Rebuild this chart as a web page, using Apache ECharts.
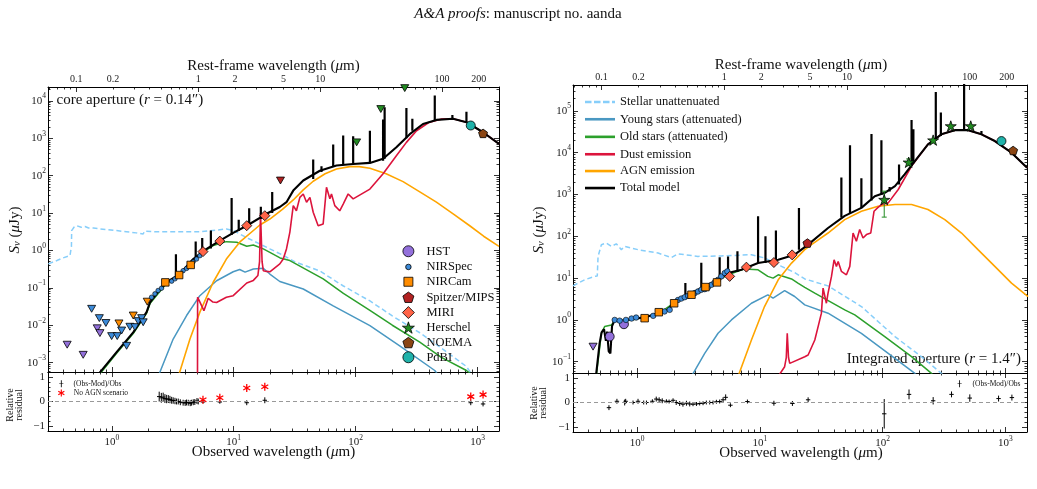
<!DOCTYPE html>
<html><head><meta charset="utf-8">
<script src="https://cdn.jsdelivr.net/npm/echarts@6/dist/echarts.min.js"></script>
<style>html,body{margin:0;padding:0;background:#fff}#c{width:1037px;height:489px}</style>
</head><body><div id="c"></div>
<script>
// ================= DATA (wavelength in micron, flux density in microJy) =================
const onePlusZ = 5.12;
// ---- tick labels ----
const obsTickLabels = [1, 10, 100, 1000];
const restTickLabels = [0.1, 0.2, 1, 2, 5, 10, 100, 200];
const leftYTickLabels = [1e-3, 1e-2, 1e-1, 1, 10, 100, 1e3, 1e4];
const rightYTickLabels = [1e-1, 1, 10, 100, 1e3, 1e4, 1e5];
const resTickLabels = [-1, 0, 1];

// ---- LEFT panel: core aperture ----
const leftStellar = [[0.302,0.437],[0.355,0.537],[0.398,0.631],[0.454,0.726],[0.467,1.26],[0.469,3.39],[0.490,4.17],[0.515,4.60],[0.562,4.17],[0.603,4.37],[0.646,3.98],[0.708,3.98],[0.80,3.76],[0.891,3.63],[1.096,3.39],[1.318,3.16],[1.585,2.95],[1.81,2.75],[1.86,3.31],[1.93,3.39],[2.24,3.16],[2.82,3.16],[3.98,3.16],[5.28,3.16],[7.08,3.47],[8.71,3.76],[10.0,3.39],[11.2,2.75],[13.2,2.09],[16.4,1.49],[19.8,1.10],[25.1,0.759],[31.6,0.50],[50.9,0.282],[79.4,0.112],[131,0.0447],[200,0.0178],[336,0.0063],[501,0.00251],[811,7.9e-4],[891,5.0e-4]];
const leftYoung = [[2.45,5.0e-4],[3.19,4.27e-3],[4.11,0.0182],[5.28,0.0617],[7.24,0.155],[9.91,0.269],[11.2,0.309],[12.4,0.263],[14.5,0.32],[17.5,0.334],[19.8,0.234],[23.9,0.148],[37.2,0.0933],[65.5,0.0331],[131,9.77e-3],[230,2.82e-3],[446,6.17e-4],[468,5.0e-4]];
const leftOld = [[0.76,3.5e-4],[0.80,5.0e-4],[1.096,1.78e-3],[1.50,6.03e-3],[1.93,0.0209],[2.06,0.038],[2.82,0.132],[3.62,0.219],[4.66,0.55],[5.28,0.80],[6.79,1.35],[8.71,1.72],[10.6,1.66],[12.8,1.29],[14.5,1.40],[17.5,1.10],[19.8,0.891],[24.0,0.631],[28.9,0.537],[54.2,0.174],[79.4,0.0708],[131,0.0251],[200,0.01],[336,3.55e-3],[501,1.41e-3],[811,6.17e-4],[891,4.8e-4]];
const leftDust = [[5.05,5e-4],[5.06,0.0562],[5.70,0.0245],[6.18,0.0525],[6.76,0.0417],[7.24,0.0407],[8.71,0.0562],[9.91,0.0617],[12.8,0.135],[14.5,0.158],[15.8,0.214],[16.3,0.501],[16.6,10.0],[17.1,0.501],[17.5,0.288],[18.6,0.275],[19.8,0.269],[23.9,0.437],[25.5,0.589],[27.1,1.10],[28.9,3.09],[30.8,15.8],[32.7,11.5],[34.9,26.3],[37.2,32.4],[39.6,19.5],[42.2,26.3],[44.9,10.5],[49.3,4.57],[54.2,5.13],[57.7,49.0],[61.5,24.0],[63.4,32.4],[67.5,15.8],[74.1,11.5],[79.1,17.4],[86.9,32.4],[95.5,24.0],[131,43.7],[168,112],[216,339],[261,776],[316,1585],[398,2630],[501,3236],[631,3311],[811,2692],[1109,1445],[1500,708]];
const leftAGN = [[3.57,5e-4],[4.38,4.27e-3],[5.28,0.0224],[6.79,0.141],[8.71,0.589],[11.2,1.66],[16.4,4.79],[19.8,6.92],[25.1,12.6],[30.8,22.4],[37.2,41.7],[44.9,70.8],[56.2,112],[69.7,151],[89.5,174],[107,174],[131,158],[178,112],[245,69.2],[331,38],[460,19.5],[631,9.55],[863,4.57],[1122,2.40],[1500,1.29]];
const leftTotal = [[0.76,3.5e-4],[0.80,5.5e-4],[1.096,1.91e-3],[1.50,6.46e-3],[1.93,0.0224],[2.06,0.0407],[2.40,0.0794],[2.82,0.141],[3.62,0.234],[4.66,0.589],[6.0,1.10],[7.71,1.82],[9.91,2.95],[12.8,4.57],[18.6,9.55],[23.9,14.5],[27.1,19.5],[30.8,39.8],[37.2,74.1],[50.9,135],[69.7,186],[95.5,204],[131,219],[168,282],[216,575],[278,1288],[357,2399],[460,3090],[630,3311],[811,2692],[1109,1445],[1500,708]];
// emission lines: [wavelength, continuum, peak]
const leftLines = [[3.36,0.195,0.794],[4.88,0.589,1.74],[5.52,0.851,2.14],[6.50,1.12,3.39],[9.62,2.57,25.1],[11.0,3.31,6.61],[13.4,4.79,13.5],[16.7,6.92,14.8],[20.7,10.0,36.3],[44.9,81.3,269],[52.5,126,178],[65.5,170,676],[79.1,191,1175],[95.5,204,1122],[131,219,1585],[168,251,3162],[173,282,6761],[261,1000,6457],[292,1585,3311],[446,3020,13800],[622,3311,4169],[811,2692,5129]];
const leftNIRSpec = [[2.12,0.0562],[2.26,0.0692],[2.40,0.0851],[2.56,0.0977],[3.10,0.151],[3.30,0.174],[3.85,0.288],[4.11,0.331],[4.38,0.389],[4.66,0.501],[4.96,0.589],[5.28,0.724]];
const leftNIRCam = [[2.75,0.14],[3.57,0.22],[4.44,0.41]];
const leftMIRI = [[5.6,0.93],[7.7,1.78],[12.8,4.6],[18,8.5]];
const leftPdBI = [[880,2190]];
const leftNOEMA = [[1110,1350]];
const leftHSTLimits = [[0.431,3.02e-3],[0.583,1.62e-3],[0.760,8.3e-3],[0.80,6.17e-3]];
const leftNIRSpecLimits = [[0.684,0.0275],[0.791,0.0155],[0.895,0.0115],[0.998,5.13e-3],[1.109,5.13e-3],[1.205,7.24e-3],[1.324,2.82e-3],[1.409,9.12e-3],[1.549,8.91e-3],[1.648,0.0129],[1.758,0.0155],[1.811,0.0120]];
const leftNIRCamLimits = [[1.146,0.0112],[1.50,0.0182],[1.954,0.0427]];
const leftMIPSLimits = [[24.2,74]];
const leftHerschelLimits = [[102,776],[161,6030],[253,21900]];
// residuals: [wavelength, (Obs-Mod)/Obs, error]
const leftResidual = [[2.45,0.2,0.2],[2.55,0.15,0.2],[2.64,0.18,0.18],[2.73,0.12,0.18],[2.82,0.1,0.17],[2.91,0.1,0.16],[3.0,0.08,0.15],[3.1,0.05,0.14],[3.19,0.04,0.13],[3.3,0.02,0.13],[3.4,0.0,0.12],[3.51,0.0,0.12],[3.65,-0.03,0.12],[3.85,-0.05,0.12],[4.0,-0.06,0.12],[4.1,-0.04,0.12],[4.24,-0.05,0.12],[4.4,-0.07,0.12],[4.5,-0.05,0.12],[4.66,-0.03,0.12],[4.8,-0.02,0.12],[5.0,0.02,0.12],[5.12,0.0,0.12],[5.6,-0.02,0.06],[7.7,-0.02,0.07],[12.8,-0.05,0.1],[18,0.05,0.12],[880,-0.05,0.1],[1110,-0.1,0.1]];
const leftNoAGN = [[5.6,0.07],[7.7,0.15],[12.8,0.55],[18,0.6],[880,0.2],[1110,0.28]];

// ---- RIGHT panel: integrated aperture ----
const rightStellar = [[0.30,6.53],[0.373,9.12],[0.451,11.0],[0.473,11.2],[0.48,33.1],[0.511,63.1],[0.561,69.2],[0.617,57.5],[0.676,66.1],[0.743,47.9],[0.791,57.5],[1.016,47.9],[1.48,39.8],[1.90,30.9],[2.15,38.0],[3.13,33.1],[4.85,33.9],[8.53,36.3],[11.0,30.2],[15.0,19.1],[19.2,13.5],[23.2,9.55],[35.9,6.53],[67.1,2.09],[126,0.398],[207,0.132],[301,0.0525],[331,0.0398]];
const rightYoung = [[2.77,0.0447],[3.55,0.158],[4.56,0.479],[5.86,1.0],[8.53,2.51],[11.6,3.98],[12.8,3.31],[15.9,5.01],[19.2,3.63],[23.2,2.29],[35.9,1.45],[67.1,0.479],[111,0.158],[183,0.0525],[200,0.0398]];
const rightOld = [[0.464,0.0447],[0.511,0.479],[0.543,0.692],[0.617,0.759],[0.656,0.955],[0.897,1.0],[1.48,1.38],[2.02,2.63],[3.55,6.03],[5.50,12.0],[7.52,16.6],[9.66,15.8],[11.6,11.0],[12.8,10.0],[14.1,12.0],[18.1,9.55],[20.4,7.59],[23.2,6.03],[28.0,4.37],[49.1,1.74],[59.3,1.32],[104,0.398],[172,0.132],[250,0.0525],[275,0.0398]];
const rightDust = [[14.1,0.0447],[15.9,0.0759],[16.4,0.126],[16.7,0.479],[17.1,0.126],[17.5,0.0912],[23.2,0.132],[24.7,0.145],[28.0,0.331],[29.8,0.692],[31.7,1.45],[32.7,5.75],[34.8,2.51],[35.9,4.37],[38.3,11.0],[40.2,27.5],[42.0,19.1],[43.4,25.1],[46.1,14.5],[50.7,12.0],[54.0,19.1],[57.4,120],[61.1,75.9],[65.0,145],[69.2,91.2],[73.8,110],[80.0,120],[85.1,398],[90.8,479],[97.7,575],[111,631],[134,1318],[172,4786],[234,15850],[301,27540],[387,34670],[497,34670],[638,27540],[820,19050],[1122,10000],[1503,4365]];
const rightAGN = [[6.64,0.0447],[8.53,0.331],[10.9,2.09],[14.1,9.12],[18.1,22.9],[23.2,47.9],[26.3,63.1],[35.9,120],[49.1,251],[67.1,398],[91.8,525],[126,575],[172,575],[234,437],[321,251],[439,120],[598,47.9],[820,19.1],[1122,7.59],[1531,3.63]];
const rightTotal = [[0.452,0.0398],[0.464,0.0525],[0.494,0.275],[0.513,0.501],[0.537,0.603],[0.556,0.316],[0.569,0.525],[0.586,0.178],[0.605,0.158],[0.624,0.708],[0.656,1.0],[0.72,0.912],[0.897,1.05],[1.15,1.15],[1.48,1.45],[1.78,1.74],[2.02,2.75],[2.77,4.37],[3.55,6.31],[4.56,9.12],[5.50,13.2],[7.06,15.8],[9.66,22.9],[14.1,27.5],[19.2,36.3],[24.7,63.1],[35.9,158],[49.1,309],[67.1,479],[86.3,912],[104,1096],[126,1585],[151,3020],[183,6310],[234,15850],[301,27540],[387,34670],[497,34670],[638,27540],[820,19050],[1122,10000],[1503,4365]];
const rightLines = [[2.47,4.0,7.6],[3.33,5.25,23.4],[4.70,8.71,31.6],[5.50,13.2,33.1],[6.56,14.1,43.7],[9.66,22.9,302],[11.1,22.9,100],[13.5,27.5,138],[20.8,47.9,479],[46.1,282,2570],[54.2,355,15140],[67.1,479,2455],[81.1,724,28180],[97.7,977,19950],[114,1175,1514],[136,1738,5248],[172,4786,60260],[178,5623,36310],[271,19950,281800],[298,25120,91200],[461,34670,1e6],[638,27540,33110]];
const rightHST = [[0.597,0.40],[0.78,0.79]];
const rightHSTLimits = [[0.437,0.229]];
const rightNIRSpec = [[0.656,1.0],[0.72,0.96],[0.81,1.0],[0.90,1.08],[0.98,1.14],[1.35,1.25],[1.67,1.59],[1.84,1.74],[2.15,3.0],[2.29,3.25],[2.44,3.5],[2.6,3.77],[2.94,4.37],[3.13,4.79],[3.33,5.25],[3.55,5.45],[3.78,6.08],[4.03,6.92],[4.28,7.87],[4.56,9.12],[4.85,11.0],[5.17,13.2],[5.43,14.5]];
const rightNIRCam = [[1.15,1.1],[1.5,1.53],[2.0,2.5],[2.77,4.0],[3.6,6.1],[4.47,7.9]];
const rightMIRI = [[5.67,11],[7.76,18.3],[13.0,23.6],[18.3,36]];
const rightMIPS = [[24.4,69]];
const rightHerschel = [[103,755],[163,5900],[258,20000],[359,43500],[522,43500]];
const rightHerschelErr = [[103,288,1202],[163,4900,7100]];
const rightPdBI = [[929,19000]];
const rightNOEMA = [[1156,11300]];
const rightResidual = [[0.589,-0.21,0.1],[0.684,0.05,0.1],[0.791,0.0,0.12],[0.806,0.05,0.1],[0.925,0.0,0.08],[1.016,0.05,0.1],[1.13,0.0,0.08],[1.19,0.0,0.08],[1.33,0.05,0.08],[1.43,0.14,0.1],[1.51,0.11,0.1],[1.60,0.07,0.1],[1.73,0.05,0.08],[1.82,0.04,0.08],[1.96,0.09,0.08],[2.08,0.0,0.1],[2.22,-0.04,0.1],[2.36,-0.07,0.1],[2.52,-0.03,0.1],[2.68,-0.06,0.1],[2.85,-0.07,0.08],[3.04,-0.06,0.08],[3.23,-0.04,0.08],[3.44,-0.03,0.08],[3.66,0.0,0.08],[3.90,0.0,0.08],[4.15,0.0,0.08],[4.42,0.03,0.08],[4.70,0.04,0.08],[5.01,0.11,0.1],[5.26,0.21,0.12],[5.75,-0.11,0.08],[7.91,0.04,0.08],[13.0,-0.03,0.1],[18.4,-0.04,0.1],[24.7,0.11,0.1],[103,-0.46,0.6],[164,0.33,0.2],[258,0.07,0.15],[364,0.33,0.12],[513,0.18,0.15],[880,0.16,0.12],[1130,0.2,0.12]];

// ================= LAYOUT / STYLE =================
const FF = "'Liberation Serif','Times New Roman',serif";
const X_RANGE = [0.3, 1500];
const LEFT_Y = [10 ** -3.25, 10 ** 4.37];
const RIGHT_Y = [10 ** -1.27, 10 ** 5.62];
const RES_Y = [-1.2, 1.2];
const L = Math.log10;
const lg = a => a.map(p => [L(p[0]), L(p[1])]);
const spikes = a => { const o = []; a.forEach(s => { o.push([L(s[0]), L(s[1])], [L(s[0]), L(s[2])], [L(s[0]), '-']); }); return o; };

const C = { hst:'#9370db', nirspec:'#3d8bd9', nircam:'#ff8c00', mips:'#b22222', miri:'#ff6347', herschel:'#228b22', noema:'#8b4513', pdbi:'#20b2aa',
  stellar:'#87cefa', young:'#4a98c2', old:'#2ca02c', dust:'#dc143c', agn:'#ffa500', total:'#000' };
const SYM = {
  pent:'path://M0,-1L0.951,-0.309L0.588,0.809L-0.588,0.809L-0.951,-0.309Z',
  star:'path://M0,-1L0.2245,-0.309L0.951,-0.309L0.363,0.118L0.588,0.809L0,0.382L-0.588,0.809L-0.363,0.118L-0.951,-0.309L-0.2245,-0.309Z',
  tri:'path://M-1,-0.58L1,-0.58L0,1.15Z',
  ast:'path://M-0.16,-1L0.16,-1L0.16,1L-0.16,1Z M0.946,0.362L0.786,0.638L-0.946,-0.362L-0.786,-0.638Z M-0.786,0.638L-0.946,0.362L0.786,-0.638L0.946,-0.362Z',
  plus:'path://M-0.12,-1L0.12,-1L0.12,1L-0.12,1Z M-0.6,-0.1L0.6,-0.1L0.6,0.1L-0.6,0.1Z'
};

const grids = [
  {left:48, top:87, width:451, height:285},
  {left:48, top:372, width:451, height:59},
  {left:573, top:85, width:454, height:288},
  {left:573, top:373, width:454, height:59}
].map(g => Object.assign({show:false, containLabel:false, outerBoundsMode:'none'}, g));

function logTicks(lo, hi) {
  const maj = [], mnr = [];
  for (let n = Math.floor(lo); n <= Math.ceil(hi); n++) {
    if (n >= lo - 1e-9 && n <= hi + 1e-9) maj.push(n);
    for (let k = 2; k <= 9; k++) { const v = n + L(k); if (v > lo && v < hi) mnr.push(v); }
  }
  return { maj, mnr };
}
const supRich = {
  b:{fontSize:11, lineHeight:17, fontFamily:FF, color:'#222'},
  s:{fontSize:7.5, lineHeight:8, verticalAlign:'top', fontFamily:FF, color:'#222'}
};
const supFmt = v => { const n = Math.round(v); return '{b|10}{s|' + (n < 0 ? '\u2212' : '') + Math.abs(n) + '}'; };
const restFmt = v => { const r = Math.pow(10, v); return r < 0.95 ? r.toFixed(1) : String(Math.round(r)); };
const resFmt = v => (v < 0 ? '\u2212' : '') + Math.abs(v);

const xAxes = [], yAxes = [];
function ax(list, g, pos, lo, hi, ticks, len, line, labelVals, fmt, lab) {
  list.push({
    type:'value', gridIndex:g, position:pos, min:lo, max:hi,
    axisLine:{show:line, onZero:false, lineStyle:{color:'#000', width:1}},
    axisTick:{show:true, inside:true, length:len, customValues:ticks, lineStyle:{color:'#000', width:0.8}},
    axisLabel: labelVals ? Object.assign({show:true, customValues:labelVals, formatter:fmt, color:'#222', fontFamily:FF, hideOverlap:false}, lab || {}) : {show:false},
    splitLine:{show:false}, splitArea:{show:false}, axisPointer:{show:false}, silent:true
  });
}
const xlo = L(X_RANGE[0]), xhi = L(X_RANGE[1]);
const obsT = logTicks(xlo, xhi);
const rlo = xlo - L(onePlusZ), rhi = xhi - L(onePlusZ);
const restT = logTicks(rlo, rhi);
const resMaj = [-1, 0, 1], resMin = [-0.8,-0.6,-0.4,-0.2,0.2,0.4,0.6,0.8];

function mainAxes(g, yr, yLabels) {
  const ylo = L(yr[0]), yhi = L(yr[1]); const yt = logTicks(ylo, yhi);
  ax(xAxes, g, 'bottom', xlo, xhi, obsT.maj, 5, true);
  ax(xAxes, g, 'bottom', xlo, xhi, obsT.mnr, 2.5, false);
  ax(xAxes, g, 'top', rlo, rhi, restT.maj, 5, true, restTickLabels.map(L), restFmt, {fontSize:10, margin:3});
  ax(xAxes, g, 'top', rlo, rhi, restT.mnr, 2.5, false);
  ax(yAxes, g, 'left', ylo, yhi, yt.maj, 5, true, yLabels.map(L), supFmt, {margin:2, rich:supRich});
  ax(yAxes, g, 'left', ylo, yhi, yt.mnr, 2.5, false);
  ax(yAxes, g, 'right', ylo, yhi, yt.maj, 5, true);
  ax(yAxes, g, 'right', ylo, yhi, yt.mnr, 2.5, false);
}
function resAxes(g) {
  ax(xAxes, g, 'bottom', xlo, xhi, obsT.maj, 5, true, obsTickLabels.map(L), supFmt, {margin:3, rich:supRich});
  ax(xAxes, g, 'bottom', xlo, xhi, obsT.mnr, 2.5, false);
  ax(xAxes, g, 'top', xlo, xhi, obsT.maj, 5, true);
  ax(xAxes, g, 'top', xlo, xhi, obsT.mnr, 2.5, false);
  ax(yAxes, g, 'left', RES_Y[0], RES_Y[1], resMaj, 5, true, resTickLabels, resFmt, {margin:3, fontSize:11});
  ax(yAxes, g, 'left', RES_Y[0], RES_Y[1], resMin, 2.5, false);
  ax(yAxes, g, 'right', RES_Y[0], RES_Y[1], resMaj, 5, true);
  ax(yAxes, g, 'right', RES_Y[0], RES_Y[1], resMin, 2.5, false);
}
mainAxes(0, LEFT_Y, leftYTickLabels);
resAxes(1);
mainAxes(2, RIGHT_Y, rightYTickLabels);
resAxes(3);

// ================= SERIES =================
function lineS(name, g, data, color, width, type) {
  return {type:'line', name, xAxisIndex:4*g, yAxisIndex:4*g, data, showSymbol:false, symbol:'none', clip:true, silent:true,
    lineStyle:{color, width, type:type || 'solid'}, itemStyle:{color}, emphasis:{disabled:true}, z:2};
}
function scat(name, g, data, symbol, size, color, bw) {
  return {type:'scatter', name, xAxisIndex:4*g, yAxisIndex:4*g, data, symbol, symbolSize:size, symbolKeepAspect:true, clip:false, silent:true,
    itemStyle:{color, borderColor:'#000', borderWidth: bw === undefined ? 0.8 : bw, opacity:1}, emphasis:{disabled:true}, z:5};
}
function resS(g, data) {
  return {type:'custom', name:'(Obs-Mod)/Obs', xAxisIndex:4*g, yAxisIndex:4*g, clip:true, silent:true, z:4,
    data: data.map(d => [L(d[0]), d[1], d[2]]),
    renderItem: (p, api) => {
      const x = api.value(0), y = api.value(1), e = api.value(2);
      const c = api.coord([x, y]), lo = api.coord([x, y - e]), hi = api.coord([x, y + e]);
      return {type:'group', children:[
        {type:'line', shape:{x1:c[0], y1:lo[1], x2:c[0], y2:hi[1]}, style:{stroke:'#000', lineWidth:1}},
        {type:'line', shape:{x1:c[0]-2.2, y1:c[1], x2:c[0]+2.2, y2:c[1]}, style:{stroke:'#000', lineWidth:1}}
      ]};
    },
    markLine:{silent:true, symbol:'none', animation:false, label:{show:false}, lineStyle:{type:[4,3], color:'#999', width:1}, data:[{yAxis:0}]}
  };
}
function errS(g, data, color) {
  return {type:'custom', name:'Herschel err', xAxisIndex:4*g, yAxisIndex:4*g, clip:true, silent:true, z:4,
    data: data.map(d => [L(d[0]), L(d[1]), L(d[2])]),
    renderItem: (p, api) => {
      const x = api.value(0);
      const lo = api.coord([x, api.value(1)]), hi = api.coord([x, api.value(2)]);
      return {type:'group', children:[
        {type:'line', shape:{x1:lo[0], y1:lo[1], x2:hi[0], y2:hi[1]}, style:{stroke:color, lineWidth:1}},
        {type:'line', shape:{x1:lo[0]-2.5, y1:lo[1], x2:lo[0]+2.5, y2:lo[1]}, style:{stroke:color, lineWidth:1}},
        {type:'line', shape:{x1:hi[0]-2.5, y1:hi[1], x2:hi[0]+2.5, y2:hi[1]}, style:{stroke:color, lineWidth:1}}
      ]};
    }
  };
}
function modelSeries(g, d) {
  return [
    lineS('Stellar unattenuated', g, lg(d.stellar), C.stellar, 1.5, [5, 3]),
    lineS('Young stars (attenuated)', g, lg(d.young), C.young, 1.5),
    lineS('Old stars (attenuated)', g, lg(d.old), C.old, 1.5),
    lineS('AGN emission', g, lg(d.agn), C.agn, 1.6),
    lineS('Dust emission', g, lg(d.dust), C.dust, 1.6),
    lineS('Total model', g, lg(d.total), C.total, 2.1),
    lineS('Total model lines', g, spikes(d.lines), C.total, 2.2)
  ];
}
const series = [].concat(
  modelSeries(0, {stellar:leftStellar, young:leftYoung, old:leftOld, agn:leftAGN, dust:leftDust, total:leftTotal, lines:leftLines}),
  [
    scat('HST limits', 0, lg(leftHSTLimits), SYM.tri, 8, C.hst),
    scat('NIRSpec limits', 0, lg(leftNIRSpecLimits), SYM.tri, 8, C.nirspec),
    scat('NIRCam limits', 0, lg(leftNIRCamLimits), SYM.tri, 8, C.nircam),
    scat('MIPS limits', 0, lg(leftMIPSLimits), SYM.tri, 8, C.mips),
    scat('Herschel limits', 0, lg(leftHerschelLimits), SYM.tri, 8, C.herschel),
    scat('NIRSpec', 0, lg(leftNIRSpec), 'circle', 4.5, C.nirspec, 0.6),
    scat('NIRCam', 0, lg(leftNIRCam), 'rect', 7.5, C.nircam),
    scat('MIRI', 0, lg(leftMIRI), 'diamond', 10, C.miri),
    scat('PdBI', 0, lg(leftPdBI), 'circle', 9, C.pdbi),
    scat('NOEMA', 0, lg(leftNOEMA), SYM.pent, 9, C.noema),
    resS(1, leftResidual),
    scat('No AGN scenario', 1, leftNoAGN.map(p => [L(p[0]), p[1]]), SYM.ast, 8, '#ff0000', 0)
  ],
  modelSeries(2, {stellar:rightStellar, young:rightYoung, old:rightOld, agn:rightAGN, dust:rightDust, total:rightTotal, lines:rightLines}),
  [
    scat('HST limits', 2, lg(rightHSTLimits), SYM.tri, 8, C.hst),
    scat('HST', 2, lg(rightHST), 'circle', 9, C.hst),
    scat('NIRSpec', 2, lg(rightNIRSpec), 'circle', 5.5, C.nirspec, 0.6),
    scat('NIRCam', 2, lg(rightNIRCam), 'rect', 7.5, C.nircam),
    scat('MIRI', 2, lg(rightMIRI), 'diamond', 10, C.miri),
    scat('Spitzer/MIPS', 2, lg(rightMIPS), SYM.pent, 9, C.mips),
    errS(2, rightHerschelErr, C.herschel),
    scat('Herschel', 2, lg(rightHerschel), SYM.star, 11, C.herschel),
    scat('PdBI', 2, lg(rightPdBI), 'circle', 9, C.pdbi),
    scat('NOEMA', 2, lg(rightNOEMA), SYM.pent, 9, C.noema),
    resS(3, rightResidual)
  ]
);

// ================= LEGENDS =================
// each legend entry: icon centred at cx, label starting at tx
const legends = [];
function leg(name, cx, cy, tx, icon, w, h, style, fs) {
  const f = fs || 12.5;
  const left = cx - w / 2;
  const pad = Math.max(0, tx - (left + w + 5));
  legends.push({show:true, selectedMode:false, orient:'vertical', padding:0, itemGap:0, left, top: cy - Math.max(h, f) / 2,
    itemWidth:w, itemHeight:h, symbolKeepAspect:true,
    textStyle:{fontSize:f, fontFamily:FF, color:'#111', padding:[0, 0, 0, pad]},
    data:[{name, icon, itemStyle:style}]});
}
const mk = c => ({color:c, borderColor:'#000', borderWidth:0.8});
leg('HST', 408, 251, 426, 'circle', 11, 11, mk(C.hst));
leg('NIRSpec', 408, 266.7, 426, 'circle', 5.5, 5.5, mk(C.nirspec));
leg('NIRCam', 408, 281.5, 426, 'rect', 9, 9, mk(C.nircam));
leg('Spitzer/MIPS', 408, 297, 426, SYM.pent, 11, 10.5, mk(C.mips));
leg('MIRI', 408, 312.3, 426, 'diamond', 12, 12, mk(C.miri));
leg('Herschel', 408, 327.3, 426, SYM.star, 12, 11.5, mk(C.herschel));
leg('NOEMA', 408, 342.3, 426, SYM.pent, 11, 10.5, mk(C.noema));
leg('PdBI', 408, 357, 426, 'circle', 11, 11, mk(C.pdbi));
const solid = 'path://M0,0h30v2.6h-30z';
const dashed = 'path://M0,0h6.5v2.6h-6.5z M9,0h6.5v2.6h-6.5z M18,0h6.5v2.6h-6.5z M27,0h3v2.6h-3z';
const ln = c => ({color:c, borderWidth:0, borderColor:'transparent'});
leg('Stellar unattenuated', 600, 101.7, 620, dashed, 30, 2.6, ln(C.stellar));
leg('Young stars (attenuated)', 600, 119, 620, solid, 30, 2.6, ln(C.young));
leg('Old stars (attenuated)', 600, 136.6, 620, solid, 30, 2.6, ln(C.old));
leg('Dust emission', 600, 154, 620, solid, 30, 2.6, ln(C.dust));
leg('AGN emission', 600, 170.8, 620, solid, 30, 2.6, ln(C.agn));
leg('Total model', 600, 187.8, 620, solid, 30, 2.6, ln(C.total));
leg('(Obs-Mod)/Obs', 61.7, 383.5, 74, SYM.plus, 5, 7, {color:'#000', borderWidth:0}, 7.5);
leg('No AGN scenario', 61.5, 392.8, 74, SYM.ast, 7, 7, {color:'#ff0000', borderWidth:0}, 7.5);
leg('(Obs-Mod)/Obs', 960, 383.5, 973, SYM.plus, 5, 7, {color:'#000', borderWidth:0}, 7.5);

// ================= TEXTS =================
const it = (fs) => ({fontStyle:'italic', fontSize:fs, fontFamily:FF, fill:'#111'});
function txt(x, y, text, fs, align, rot) {
  return {type:'text', x, y, rotation: rot || 0, silent:true,
    style:{text, fontSize:fs, fontFamily:FF, fill:'#111', align: align || 'center', verticalAlign:'middle',
      rich:{i:it(fs), sub:{fontStyle:'italic', fontSize:fs*0.7, fontFamily:FF, fill:'#111', verticalAlign:'bottom', lineHeight:fs*0.8}}}};
}
const R90 = Math.PI / 2;
const texts = [
  txt(518, 14, '{i|A&A proofs}: manuscript no. aanda', 15),
  txt(273.5, 66.5, 'Rest-frame wavelength ({i|\u03bc}m)', 15),
  txt(801, 65.5, 'Rest-frame wavelength ({i|\u03bc}m)', 15),
  txt(273.5, 452, 'Observed wavelength ({i|\u03bc}m)', 15),
  txt(801, 453, 'Observed wavelength ({i|\u03bc}m)', 15),
  txt(15, 230, '{i|S}{sub|\u03bd} ({i|\u03bc}Jy)', 15, 'center', R90),
  txt(539, 230, '{i|S}{sub|\u03bd} ({i|\u03bc}Jy)', 15, 'center', R90),
  txt(14.5, 405, 'Relative\nresidual', 10, 'center', R90),
  txt(539, 403, 'Relative\nresidual', 10, 'center', R90),
  txt(56.5, 100.5, 'core aperture ({i|r} = 0.14\u2033)', 15, 'left'),
  txt(1021, 359, 'Integrated aperture ({i|r} = 1.4\u2033)', 15, 'right')
];
texts[7].style.lineHeight = 9; texts[8].style.lineHeight = 9;

const chart = echarts.init(document.getElementById('c'), null, {renderer:'canvas'});
chart.setOption({
  animation:false, backgroundColor:'#fff', textStyle:{fontFamily:FF},
  grid:grids, xAxis:xAxes, yAxis:yAxes, legend:legends, graphic:{elements:texts}, series
});
</script></body></html>
